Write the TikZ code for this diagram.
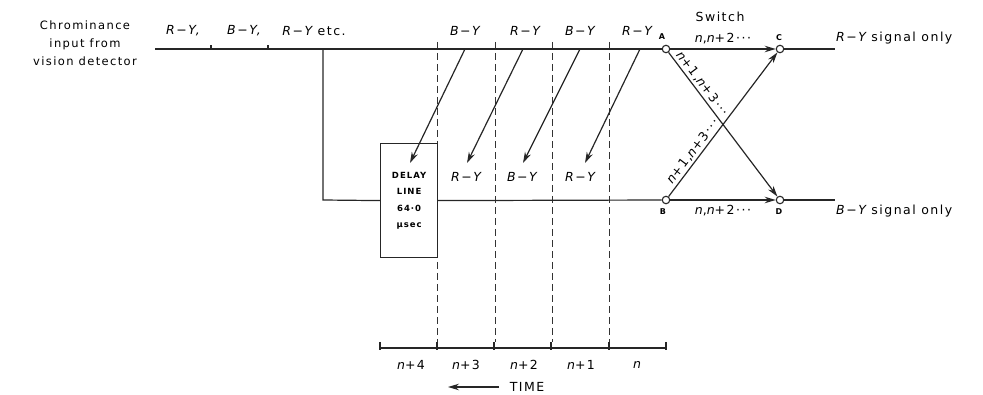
\documentclass[tikz,border=0pt]{standalone}
\usepackage{fontspec}
\setmainfont{DejaVu Sans}[LetterSpace=12]
\usetikzlibrary{arrows.meta}
\tikzset{
  sig/.style={line width=1.2pt, draw=black!85},
  dline/.style={line width=1pt, draw=black!80, dash pattern=on 7pt off 4pt},
  sw/.style={circle, draw=black!85, line width=1.1pt, fill=white, inner sep=0pt, minimum size=7.5pt},
  arr/.style={-{Stealth[length=11pt,width=6.5pt]}},
  lbl/.style={inner sep=0pt, font=\fontsize{12.5}{14}\selectfont},
  ilbl/.style={inner sep=0pt, font=\fontsize{12.5}{14}\selectfont\itshape},
  tiny/.style={inner sep=0pt, font=\fontsize{8}{9}\selectfont\bfseries},
  delaytxt/.style={font=\fontsize{8.5}{16.5}\selectfont\bfseries, align=center},
}
\begin{document}
\begin{tikzpicture}[x=1pt,y=-1pt]
\useasboundingbox (0,0) rectangle (983,395);

% switch nodes
\node[sw] (A) at (666,49) {};
\node[sw] (C) at (780,49) {};
\node[sw] (B) at (666,200) {};
\node[sw] (D) at (780,200) {};
\coordinate (in) at (155,49);
\coordinate (tap) at (323,49);
\coordinate (tapd) at (323,200);
\coordinate (Cout) at (835,49);
\coordinate (Dout) at (835,200);

% dashed time dividers
\foreach \x/\n in {437/d1,495/d2,552/d3,609/d4}{
  \coordinate (\n t) at (\x,42);
  \coordinate (\n b) at (\x,342);
  \draw[dline] (\n t) -- (\n b);
}

% delay line box
\node[draw=black!85, line width=1.2pt, fill=white, minimum width=57pt, minimum height=114pt, anchor=north west, inner sep=0pt] (dl) at (380,143) {};
\node[delaytxt] (dltxt) at (dl.center) {DELAY\\LINE\\64·0\\µsec};

% signal lines
\draw[sig] (in) -- (A);
\draw[sig] (tap) -- (tapd) -- (dl.west);
\draw[sig] (dl.east) -- (B);
\draw[sig] (C) -- (Cout);
\draw[sig] (D) -- (Dout);

% small ticks on input line
\coordinate (k1) at (211,49); \coordinate (k1u) at (211,45);
\coordinate (k2) at (268,49); \coordinate (k2u) at (268,45);
\draw[sig] (k1) -- (k1u);
\draw[sig] (k2) -- (k2u);

% diagonal arrows
\foreach \a/\b/\n in {465/410/g1,523/467/g2,580/523/g3,640/585/g4}{
  \coordinate (\n s) at (\a,49);
  \coordinate (\n e) at (\b,163);
  \draw[sig,arr] (\n s) -- (\n e);
}

% switch connections
\draw[sig,arr] (A) -- (C);
\draw[sig,arr] (B) -- (D);
\draw[sig,arr] (A) -- (D) node[pos=0.25, sloped, above=2pt, lbl] {\itshape n\upshape+1,\itshape n\upshape+3···};
\draw[sig,arr] (B) -- (C) node[pos=0.28, sloped, above=2pt, lbl] {\itshape n\upshape+1,\itshape n\upshape+3···};

% labels at switch
\node[tiny] (lA) at (662,37) {A};
\node[tiny] (lC) at (779,38) {C};
\node[tiny] (lB) at (663,212) {B};
\node[tiny] (lD) at (779,212) {D};
\node[lbl] (sw) at (720,17) {Switch};
\node[lbl] (n1) at (723,39) {\itshape n\upshape,\itshape n\upshape+2···};
\node[lbl] (n2) at (723,211) {\itshape n\upshape,\itshape n\upshape+2···};
\node[lbl, anchor=west] (ro) at (836,38) {\itshape R−Y\upshape\ signal only};
\node[lbl, anchor=west] (bo) at (836,211) {\itshape B−Y\upshape\ signal only};

% input labels
\node[lbl, align=center, font=\fontsize{11.5}{18}\selectfont] (chr) at (85,43) {Chrominance\\input from\\vision detector};
\node[ilbl] (t1) at (183,31) {R−Y,};
\node[ilbl] (t2) at (244,31) {B−Y,};
\node[lbl] (t3) at (314,31) {\itshape R−Y\upshape\ etc.};

% top sequence labels
\node[ilbl] (s1) at (465,31) {B−Y};
\node[ilbl] (s2) at (525,31) {R−Y};
\node[ilbl] (s3) at (580,31) {B−Y};
\node[ilbl] (s4) at (637,31) {R−Y};
% delayed labels
\node[ilbl] (r1) at (466,177) {R−Y};
\node[ilbl] (r2) at (522,177) {B−Y};
\node[ilbl] (r3) at (580,177) {R−Y};

% time scale
\coordinate (sL) at (380,348);
\coordinate (sR) at (666,348);
\draw[sig] (sL) -- (sR);
\foreach \x/\n in {380/t0,437/t1,494/t2,551/t3,609/t4,666/t5}{
  \coordinate (\n a) at (\x,342);
  \coordinate (\n b) at (\x,350);
  \draw[sig] (\n a) -- (\n b);
}
\node[lbl] (p4) at (411,365) {\itshape n\upshape+4};
\node[lbl] (p3) at (466,365) {\itshape n\upshape+3};
\node[lbl] (p2) at (524,365) {\itshape n\upshape+2};
\node[lbl] (p1) at (581,365) {\itshape n\upshape+1};
\node[lbl] (p0) at (637,365) {\itshape n};
\node[lbl] (time) at (527,387) {TIME};
\coordinate (ta) at (499,387);
\coordinate (tb) at (448,387);
\draw[sig,arr] (ta) -- (tb);
\end{tikzpicture}
\end{document}
